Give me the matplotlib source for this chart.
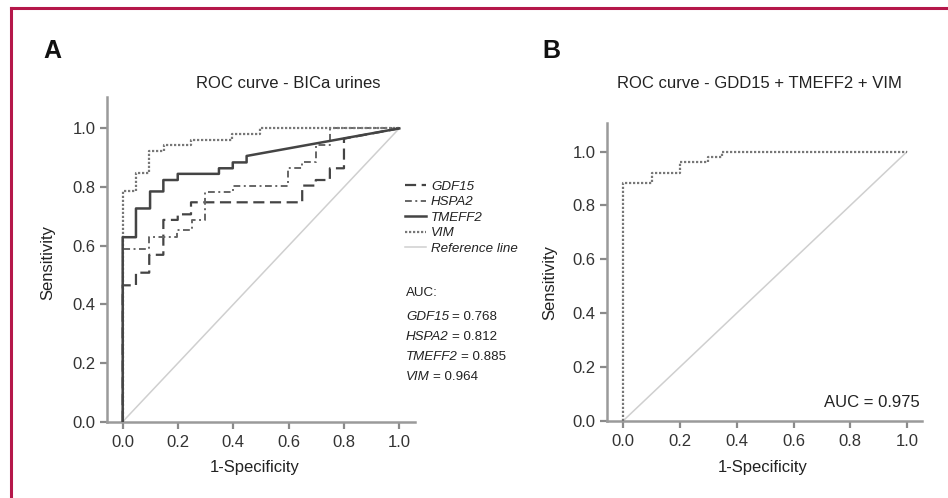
import matplotlib.pyplot as plt
from matplotlib.lines import Line2D

plt.rcParams['font.family'] = ['Liberation Sans', 'DejaVu Sans']

# panel A: ROC step points (1-specificity, sensitivity)
gdf15_x = [0, 0, 0.048, 0.048, 0.096, 0.096, 0.147, 0.147, 0.199, 0.199, 0.247, 0.247,
           0.649, 0.649, 0.698, 0.698, 0.749, 0.749, 0.80, 0.80, 1.0]
gdf15_y = [0, 0.465, 0.465, 0.508, 0.508, 0.569, 0.569, 0.688, 0.688, 0.707, 0.707, 0.748,
           0.748, 0.805, 0.805, 0.824, 0.824, 0.864, 0.864, 0.965, 1.0]
hspa2_x = [0, 0, 0.095, 0.095, 0.197, 0.197, 0.249, 0.249, 0.298, 0.298, 0.40, 0.40,
           0.599, 0.599, 0.647, 0.647, 0.698, 0.698, 0.75, 0.75, 1.0]
hspa2_y = [0, 0.59, 0.59, 0.631, 0.631, 0.654, 0.654, 0.688, 0.688, 0.784, 0.784, 0.805,
           0.805, 0.864, 0.864, 0.884, 0.884, 0.943, 0.943, 1.0, 1.0]
tmeff2_x = [0, 0, 0.048, 0.048, 0.099, 0.099, 0.147, 0.147, 0.199, 0.199, 0.348, 0.348,
            0.398, 0.398, 0.448, 0.448, 1.0]
tmeff2_y = [0, 0.629, 0.629, 0.727, 0.727, 0.785, 0.785, 0.824, 0.824, 0.845, 0.845, 0.864,
            0.864, 0.884, 0.884, 0.906, 1.0]
vim_x = [0, 0, 0.048, 0.048, 0.095, 0.095, 0.149, 0.149, 0.247, 0.247, 0.396, 0.396,
         0.496, 0.496, 1.0]
vim_y = [0, 0.787, 0.787, 0.847, 0.847, 0.924, 0.924, 0.943, 0.943, 0.96, 0.96, 0.981,
         0.981, 1.0, 1.0]

# panel B: combined marker
combo_x = [0, 0, 0.10, 0.10, 0.20, 0.20, 0.297, 0.297, 0.347, 0.347, 1.0]
combo_y = [0, 0.882, 0.882, 0.922, 0.922, 0.961, 0.961, 0.981, 0.981, 1.0, 1.0]

ref_line = [0, 1]
ticks = [0.0, 0.2, 0.4, 0.6, 0.8, 1.0]
auc_names = ['GDF15', 'HSPA2', 'TMEFF2', 'VIM']
auc_values = [0.768, 0.812, 0.885, 0.964]
auc_combo = 0.975

W, H = 948, 498
fig = plt.figure(figsize=(W / 100, H / 100), dpi=100)
FS = 12
SMALL = 9.6


def style_axes(ax):
    ax.spines['top'].set_visible(False)
    ax.spines['right'].set_visible(False)
    for s in ['left', 'bottom']:
        ax.spines[s].set_color('#9a9a9a')
        ax.spines[s].set_linewidth(1.8)
    ax.set_xticks(ticks)
    ax.set_yticks(ticks)
    ax.tick_params(length=5, width=1.6, color='#8a8a8a', labelsize=FS,
                   labelcolor='#333333')
    ax.tick_params(axis='x', pad=4.5)
    ax.tick_params(axis='y', pad=3)
    ax.xaxis.set_major_formatter(plt.FormatStrFormatter('%.1f'))
    ax.yaxis.set_major_formatter(plt.FormatStrFormatter('%.1f'))


# axes positions from pixel measurements
axA = fig.add_axes([106.7 / W, 1 - 421.7 / H, (415 - 106.7) / W, (421.7 - 97) / H])
axA.set_xlim(-0.0578, 1.0568)
axA.set_ylim(0, 1.107)
style_axes(axA)

axA.plot(ref_line, ref_line, color='#cfcfcf', lw=1.1, label='Reference line', zorder=1)
axA.plot(gdf15_x, gdf15_y, color='#444444', lw=1.6, dashes=(5, 2.5), label='GDF15', zorder=3)
axA.plot(hspa2_x, hspa2_y, color='#666666', lw=1.4, dashes=(3.5, 1.8, 1, 1.8), label='HSPA2', zorder=3)
axA.plot(tmeff2_x, tmeff2_y, color='#444444', lw=1.8, label='TMEFF2', zorder=4)
axA.plot(vim_x, vim_y, color='#777777', lw=1.6, dashes=(1, 0.8), label='VIM', zorder=3)

handles, labels = axA.get_legend_handles_labels()
order = [1, 2, 3, 4, 0]
leg = fig.legend([handles[i] for i in order], [labels[i] for i in order],
                 loc='upper left', bbox_to_anchor=(405 / W, 1 - 180.5 / H),
                 frameon=False, fontsize=SMALL, handlelength=1.55, handletextpad=0.4,
                 labelspacing=0.24, borderpad=0, borderaxespad=0)
for t in leg.get_texts():
    t.set_fontstyle('italic')
    t.set_color('#222222')

# AUC block: italic gene name followed by upright value
fig.text(406 / W, 1 - 293 / H, 'AUC:', fontsize=SMALL, color='#222222', va='center')
for i, (name, val) in enumerate(zip(auc_names, auc_values)):
    t_name = fig.text(406 / W, 1 - (316.7 + 20 * i) / H, name, fontsize=SMALL,
                      fontstyle='italic', color='#222222', va='center')
    axA.annotate(f'= {val:.3f}', xy=(1, 0.5), xycoords=t_name, xytext=(2, 0),
                 textcoords='offset points', fontsize=SMALL, color='#222222',
                 va='center', ha='left', annotation_clip=False)

axB = fig.add_axes([606.7 / W, 1 - 420.7 / H, (922.3 - 606.7) / W, (420.7 - 123.3) / H])
axB.set_xlim(-0.0585, 1.054)
axB.set_ylim(0, 1.1055)
style_axes(axB)
axB.plot(ref_line, ref_line, color='#cfcfcf', lw=1.1, zorder=1)
axB.plot(combo_x, combo_y, color='#777777', lw=1.6, dashes=(1, 0.8), zorder=3)
fig.text(920 / W, 1 - 402.3 / H, f'AUC = {auc_combo:.3f}', fontsize=FS,
         color='#222222', ha='right', va='center')

# titles and labels
fig.text(288 / W, 1 - 83 / H, 'ROC curve - BICa urines', fontsize=FS,
         color='#222222', ha='center', va='center')
fig.text(759 / W, 1 - 83 / H, 'ROC curve - GDD15 + TMEFF2 + VIM', fontsize=FS,
         color='#222222', ha='center', va='center')
fig.text(255 / W, 1 - 467 / H, '1-Specificity', fontsize=FS, color='#222222',
         ha='center', va='center')
fig.text(763 / W, 1 - 467 / H, '1-Specificity', fontsize=FS, color='#222222',
         ha='center', va='center')
fig.text(48 / W, 1 - 263 / H, 'Sensitivity', fontsize=FS, color='#222222',
         ha='center', va='center', rotation=90)
fig.text(550 / W, 1 - 283 / H, 'Sensitivity', fontsize=FS, color='#222222',
         ha='center', va='center', rotation=90)
fig.text(43 / W, 1 - 51.5 / H, 'A', fontsize=18, fontweight='bold', color='#111111',
         ha='left', va='center')
fig.text(542 / W, 1 - 51.5 / H, 'B', fontsize=18, fontweight='bold', color='#111111',
         ha='left', va='center')

# crimson frame (left and top edges)
frame_c = '#b5174a'
fig.add_artist(Line2D([11 / W, 11 / W], [0, 1 - 8 / H], color=frame_c, lw=2.2))
fig.add_artist(Line2D([11 / W, 1], [1 - 8 / H, 1 - 8 / H], color=frame_c, lw=2.2))

fig.savefig('out.png', dpi=100)
